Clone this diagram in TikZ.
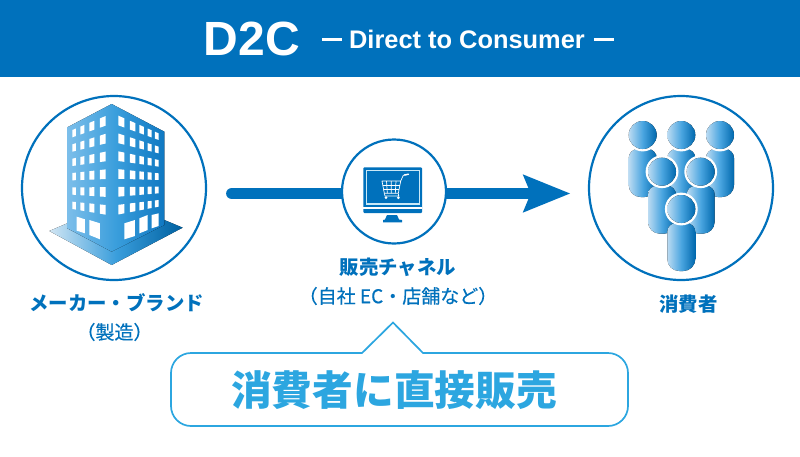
\documentclass[tikz,border=0pt]{standalone}
\usepackage{fontspec}
\setmainfont{Liberation Sans}
\newfontfamily\jp{Noto Sans CJK JP}
\newfontfamily\jpm[FakeBold=0.35]{Noto Sans CJK JP}
\definecolor{brand}{HTML}{0071BC}
\definecolor{sky}{HTML}{2CA6E0}
\definecolor{midblue}{HTML}{3A9EDC}
\definecolor{wallleft}{HTML}{7CBEEA}
\definecolor{wallright}{HTML}{0F78C2}
\definecolor{personleft}{HTML}{BBDBF2}
\definecolor{personmid}{HTML}{4AA5E0}
\tikzset{
  ring/.style={draw=brand,line width=2.2pt,fill=white},
  jplabel/.style={text=brand,font=\jp\bfseries\fontsize{19.4}{22}\selectfont,inner sep=0pt,anchor=center},
  jpsub/.style={text=brand,font=\jpm\fontsize{19}{22}\selectfont,inner sep=0pt,anchor=center},
  win/.style={fill=white,draw=none},
  persongrad/.style={left color=personleft,right color=brand!92!black,middle color=personmid}
}
\begin{document}
\begin{tikzpicture}[x=1pt,y=-1pt]
\useasboundingbox (0,0) rectangle (800,456);
\fill[white] (0,0) rectangle (800,456);
\fill[brand] (0,0) rectangle (800,76.5);
\node[text=white,font=\bfseries\fontsize{48}{50}\selectfont,inner sep=0pt] (title) at (252,38.5) {D2C};
\node[text=white,font=\bfseries\fontsize{25.4}{28}\selectfont,inner sep=0pt] (subtitle) at (468,39) {\rule[0.29em]{20pt}{2.6pt}\hspace{7pt}Direct to Consumer\hspace{9pt}\rule[0.29em]{20pt}{2.6pt}};

% connector
\coordinate (arrowstart) at (232,193.5);
\coordinate (arrowend) at (528,193.5);
\draw[brand,line width=11.8pt,line cap=round] (arrowstart) -- (arrowend);
\fill[brand] (522.7,174.3) -- (570,193.5) -- (522.7,212.7) -- (530.7,193.5) -- cycle;

% maker
\node[ring,circle,minimum size=184pt,inner sep=0pt] (maker) at (114,188) {};
\begin{scope}[shift={(10,85)},x=0.3333pt,y=-0.3333pt]
  \fill[left color=brand!18!white,right color=brand!85!black,middle color=midblue] (118,438) -- (172,415) -- (463,405) -- (518,428) -- (305,540) -- cycle;
  \fill[left color=wallleft,right color=wallright,middle color=midblue] (305,57) -- (463,140) -- (463,420) -- (305,500) -- (172,430) -- (172,127) -- cycle;
  \foreach \xa/\xb in {187/198,211/223,238/253,270/287}{
    \foreach \r in {0,...,5}{
      \pgfmathsetmacro{\ya}{135+43*\r+(\xa-187)/100*(-42+10.4*\r)}
      \pgfmathsetmacro{\yb}{135+43*\r+(\xb-187)/100*(-42+10.4*\r)}
      \pgfmathsetmacro{\ha}{22+(\xa-187)*0.07}
      \pgfmathsetmacro{\hb}{22+(\xb-187)*0.07}
      \fill[win] (\xa,\ya) -- (\xb,\yb) -- (\xb,\yb+\hb) -- (\xa,\ya+\ha) -- cycle;
    }
  }
  \foreach \xa/\xb in {325/343,360/376,388/402,413/425,435/446}{
    \foreach \r in {0,...,5}{
      \pgfmathsetmacro{\ya}{92+53.5*\r+(\xa-325)/121*(53-13.5*\r)}
      \pgfmathsetmacro{\yb}{92+53.5*\r+(\xb-325)/121*(53-13.5*\r)}
      \pgfmathsetmacro{\ha}{29-(\xa-325)*0.075}
      \pgfmathsetmacro{\hb}{29-(\xb-325)*0.075}
      \fill[win] (\xa,\ya) -- (\xb,\yb) -- (\xb,\yb+\hb) -- (\xa,\ya+\ha) -- cycle;
    }
  }
  \fill[win] (200,395) -- (225,403) -- (225,445) -- (200,437) -- cycle;
  \fill[win] (238,405) -- (270,415) -- (270,463) -- (238,450) -- cycle;
  \fill[win] (343,415) -- (375,405) -- (375,453) -- (343,463) -- cycle;
  \fill[win] (388,400) -- (413,390) -- (413,435) -- (388,445) -- cycle;
  \fill[win] (425,390) -- (446,385) -- (446,423) -- (425,430) -- cycle;
\end{scope}

% channel
\node[ring,circle,minimum size=104pt,inner sep=0pt] (channel) at (394,191.5) {};
\fill[brand,rounded corners=1pt] (363.3,167.3) rectangle (422,213);
\draw[white!75!sky,line width=1.1pt] (366.6,170.5) rectangle (419.2,204);
\fill[white] (363.3,207.4) rectangle (422,208.7);
\fill[brand] (387,215) -- (397,215) -- (399,219.5) -- (402,220) -- (402,222.3) -- (383,222.3) -- (383,220) -- (385,219.5) -- cycle;
% cart
\begin{scope}[draw=white,line width=0.7pt,line join=round]
  \draw (382,181) -- (400.7,181) -- (398.3,193.3) -- (384.3,193.3) -- cycle;
  \draw (382.8,185.2) -- (399.9,185.2) (383.6,189.2) -- (399.1,189.2);
  \draw (386.5,181) -- (387.3,193.3) (391.3,181) -- (391.3,193.3) (396,181) -- (395.3,193.3);
  \draw (400.7,181) -- (403.3,175.3) -- (408.8,174.3);
  \draw[line width=1.4pt,line cap=round] (404.5,175) -- (408.5,174.2);
  \draw (384.3,193.3) -- (385,196) -- (399.3,196) (398.3,193.3) -- (398.6,196);
  \fill[white] (386,197.7) circle (1.5) (398.3,197.7) circle (1.5);
\end{scope}

% consumers
\node[ring,circle,minimum size=184pt,inner sep=0pt] (consumer) at (681,188) {};
\newcommand{\person}[2]{%
  \fill[persongrad] (#1-14,#2+23) arc (180:270:9) -- (#1+5,#2+14) arc (-90:0:9) -- (#1+14,#2+50) arc (0:90:12) -- (#1-2,#2+62) arc (90:180:12) -- cycle;
  \fill[white] (#1,#2) circle (16.4);
  \fill[persongrad] (#1,#2) circle (14);
}
\person{642.7}{135}
\person{681.3}{135}
\person{720}{135}
\person{662}{171.7}
\person{700.7}{171.7}
\person{681.3}{209}

% labels
\node[jplabel] (makerlabel) at (116.5,303) {メーカー・ブランド};
\node[jpsub] (makersub) at (114.5,332) {（製造）};
\node[jplabel] (channellabel) at (398,267) {販売チャネル};
\node[jpsub] (channelsub) at (398,296) {（自社 EC・店舗など）};
\node[jplabel] (consumerlabel) at (688.5,304) {消費者};

% callout
\draw[sky,line width=1.7pt,fill=white,rounded corners=0pt] (362,353) -- (393,322.5) -- (423,353) -- (608,353) arc (-90:0:20) -- (628,406) arc (0:90:20) -- (191,426) arc (90:180:20) -- (171,373) arc (180:270:20) -- cycle;
\node[text=sky,font=\jp\bfseries\fontsize{40.7}{44}\selectfont,inner sep=0pt] (calloutlabel) at (394,390) {消費者に直接販売};
\end{tikzpicture}
\end{document}
